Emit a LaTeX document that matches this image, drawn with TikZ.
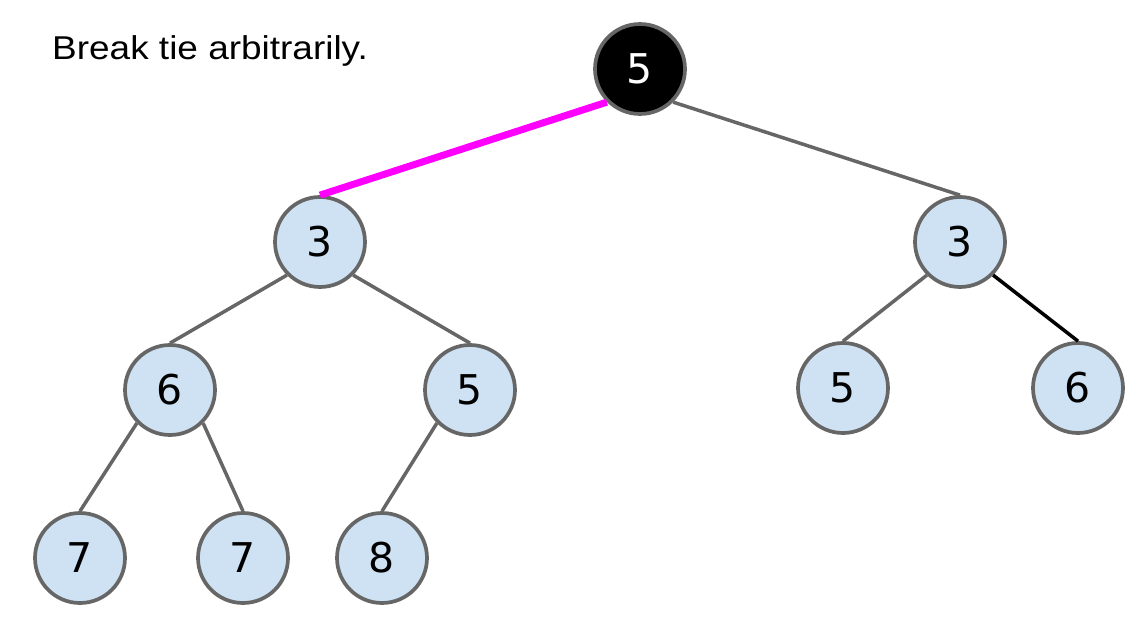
\documentclass[tikz,border=0pt]{standalone}
\usepackage{fontspec}
\newfontfamily\digitfont{DejaVu Sans}
\newfontfamily\notefont[FakeStretch=1.12]{Liberation Sans}
\definecolor{nodefill}{HTML}{CFE2F3}
\definecolor{nodeline}{HTML}{666666}
\definecolor{pathpink}{HTML}{FF00FF}
\begin{document}
\begin{tikzpicture}[x=1pt,y=-1pt,
  heapnode/.style={circle,draw=nodeline,fill=nodefill,line width=3.7pt,
    minimum size=90pt,inner sep=0pt,font=\digitfont\fontsize{41}{41}\selectfont},
  rootnode/.style={heapnode,fill=black,text=white},
  edge/.style={draw=nodeline,line width=3.5pt},
  chosen/.style={draw=pathpink,line width=7pt},
  plain/.style={draw=black,line width=3.5pt}]
\useasboundingbox (0,0) rectangle (1146,636);

\node[anchor=base west,inner sep=0pt,font=\notefont\fontsize{33}{34}\selectfont]
  (note) at (52,60) {Break tie arbitrarily.};

% the heap
\node[rootnode] (r) at (640,69) {5};
\node[heapnode] (a) at (320,242) {3};
\node[heapnode] (b) at (960,242) {3};
\node[heapnode] (a1) at (170,390) {6};
\node[heapnode] (a2) at (470,390) {5};
\node[heapnode] (b1) at (843,388) {5};
\node[heapnode] (b2) at (1078,388) {6};
\node[heapnode] (a11) at (80,558) {7};
\node[heapnode] (a12) at (243,558) {7};
\node[heapnode] (a21) at (382,558) {8};

% links leave the parent at its lower diagonals and meet the child's top
\draw[chosen] (r.south west) -- (a.north);
\draw[edge] (r.south east) -- (b.north);
\draw[edge] (a.south west) -- (a1.north);
\draw[edge] (a.south east) -- (a2.north);
\draw[edge] (b.south west) -- (b1.north);
\draw[plain] (b.south east) -- (b2.north);
\draw[edge] (a1.south west) -- (a11.north);
\draw[edge] (a1.south east) -- (a12.north);
\draw[edge] (a2.south west) -- (a21.north);
\end{tikzpicture}
\end{document}
